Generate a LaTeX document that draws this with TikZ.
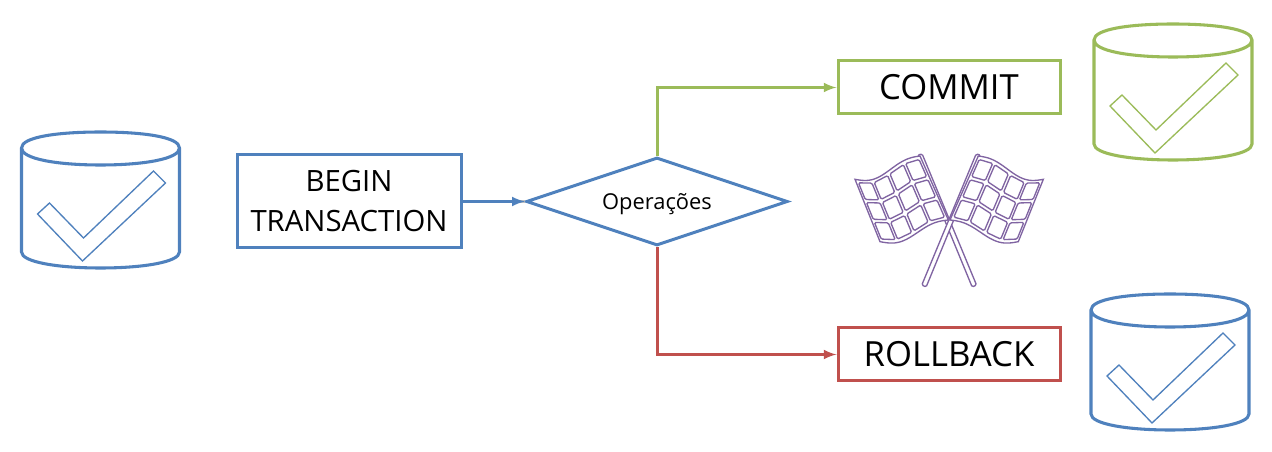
\documentclass[tikz,border=0pt]{standalone}
\usepackage{fontspec}
\setmainfont{Open Sans}
\usetikzlibrary{positioning, shapes.geometric}

\definecolor{myblue}{HTML}{4F81BD}
\definecolor{mygreen}{HTML}{9BBB59}
\definecolor{myred}{HTML}{C0504D}
\definecolor{mypurple}{HTML}{8064A2}

\begin{document}
\begin{tikzpicture}[
x=0.75pt, y=-0.75pt,
mybox/.style={rectangle,
  draw=#1,
  line width=2.25pt,
  fill=white,
  align=center,
  inner sep=0pt,
  font=\fontsize{22}{30}\selectfont
},
mydiamond/.style={diamond,
  draw=myblue,
  line width=2.25pt,
  fill=white,
  inner sep=0pt,
  shape aspect=3,
  minimum width=196pt,
  minimum height=66pt,
  text height=16pt,
  text depth=4pt,
  font=\fontsize{16.4}{20}\selectfont
},
myflow/.style={->,line width=2.25pt,#1},
declare function={
  flagx(\u,\v)=45+195*\u+75*\v+10*\u*\v;
  flagy(\u,\v)=118-70*\u+187*\v+5*\u*\v+22*sin(270*\u)*(1-\u*\u);
},
mydb/.pic={
  % cylinder, origin at top left of its box
  \draw[#1,line width=2.3pt,fill=white] (0,16) .. controls (0,27) and (36,33) .. (79,33)
    .. controls (122,33) and (158,27) .. (158,16) .. controls (158,5) and (122,0) .. (79,0)
    .. controls (36,0) and (0,5) .. (0,16) -- (0,120)
    .. controls (0,130) and (36,136) .. (79,136) .. controls (122,136) and (158,130) .. (158,120) -- (158,16);
  % check mark
  \draw[#1,line width=1pt] (132,39) -- (144,51) -- (61,129) -- (16,82) -- (28,71) -- (62,106) -- cycle;
},
myflag/.pic={
  \draw[mypurple,line width=1pt,fill=white,rounded corners=1pt] (246.5,42) -- (409.5,435) -- (396.5,441) -- (233.5,45) -- cycle;
  \draw[mypurple,line width=1pt,fill=white] plot[smooth,variable=\u,domain=0:1,samples=15] ({flagx(\u,0)},{flagy(\u,0)})
    -- plot[smooth,variable=\u,domain=1:0,samples=15] ({flagx(\u,1)},{flagy(\u,1)}) -- cycle;
  \foreach \i in {0,1,2,3} {
    \foreach \j in {0,1,2} {
      \pgfmathsetmacro{\ua}{0.035+\i*0.241}
      \pgfmathsetmacro{\ub}{\ua+0.206}
      \pgfmathsetmacro{\va}{0.05+\j*0.317}
      \pgfmathsetmacro{\vb}{\va+0.267}
      \draw[mypurple,line width=1pt,rounded corners=1pt] ({flagx(\ua,\va)},{flagy(\ua,\va)}) -- ({flagx(\ub,\va)},{flagy(\ub,\va)})
        -- ({flagx(\ub,\vb)},{flagy(\ub,\vb)}) -- ({flagx(\ua,\vb)},{flagy(\ua,\vb)}) -- cycle;
    }
  }
},
>=latex
]
\useasboundingbox (0,0) rectangle (1272,452);

\node[mybox=myblue, minimum width=168pt, minimum height=69.75pt] (begin) at (349,201.5)
    {BEGIN\\TRANSACTION};
\node[mydiamond, right=46.75pt of begin] (ops)
    {Operações};
\node[mybox=mygreen, minimum width=166.5pt, minimum height=39.75pt, font=\fontsize{26}{30}\selectfont] (commit) at (949,87.5)
    {COMMIT};
\node[mybox=myred, minimum width=166.5pt, minimum height=39.75pt, font=\fontsize{26}{30}\selectfont, below=158.25pt of commit] (rollback)
    {ROLLBACK};

% soft shadow under the arrow
\draw[line width=2pt,black!25,yshift=-1.5pt] (begin) -- (ops);
\draw[myflow=myblue] (begin) -- (ops);
\draw[myflow=mygreen] (ops.north) |- (commit.west);
\draw[myflow=myred] (ops.south) |- (rollback.west);

\pic at (21.5,132) {mydb=myblue};
\pic at (1094,24) {mydb=mygreen};
\pic at (1091,294) {mydb=myblue};

\pic[scale=1/3] at (840,140) {myflag};
\pic[xscale=-1/3,yscale=1/3] at (1058.3,140) {myflag};
\end{tikzpicture}
\end{document}
